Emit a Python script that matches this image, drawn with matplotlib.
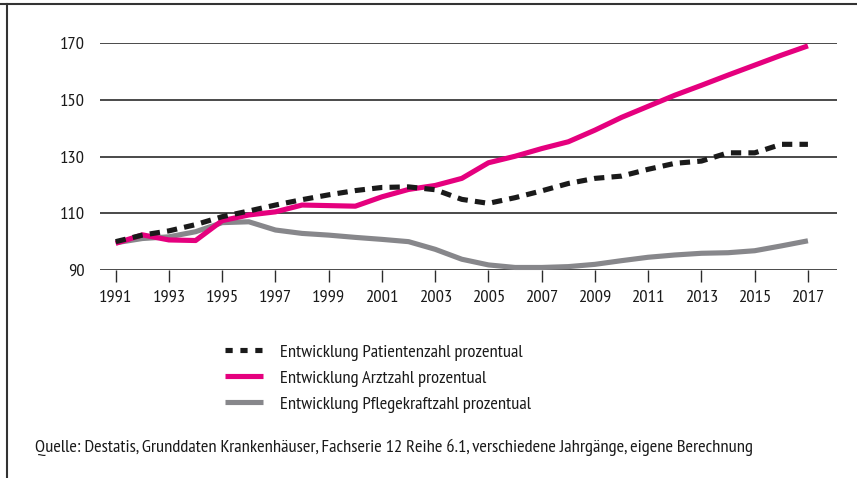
import matplotlib
matplotlib.use("Agg")
import matplotlib.pyplot as plt
from matplotlib.lines import Line2D

plt.rcParams['font.family'] = ['PT Sans Narrow', 'DejaVu Sans']

# Data (index, 1991 = 100)
years = list(range(1991, 2018))
patienten = [100.0, 102.3, 103.8, 106.0, 108.8, 110.8, 112.9, 114.8, 116.5, 118.0,
             119.1, 119.3, 118.3, 114.9, 113.5, 115.5, 117.9, 120.5, 122.3, 123.1,
             125.5, 127.6, 128.4, 131.3, 131.3, 134.3, 134.3]
aerzte = [99.4, 102.4, 100.6, 100.4, 107.4, 109.4, 110.5, 112.9, 112.7, 112.5,
          115.8, 118.4, 119.8, 122.3, 127.8, 130.1, 132.8, 135.2, 139.3, 143.8,
          147.7, 151.6, 155.1, 158.7, 162.2, 165.7, 169.0]
pflege = [99.6, 101.1, 101.7, 103.5, 106.7, 107.0, 104.1, 102.9, 102.3, 101.5,
          100.8, 100.0, 97.3, 93.8, 91.8, 90.9, 90.9, 91.2, 92.0, 93.3,
          94.5, 95.3, 95.9, 96.1, 96.8, 98.5, 100.3]

labels = ["Entwicklung Patientenzahl prozentual",
          "Entwicklung Arztzahl prozentual",
          "Entwicklung Pflegekraftzahl prozentual"]
quelle = ("Quelle: Destatis, Grunddaten Krankenhäuser, Fachserie 12 Reihe 6.1, "
          "verschiedene Jahrgänge, eigene Berechnung")

pink = "#e5007e"
grey = "#87878b"
black = "#1a1a1a"
fs = 13.3

fig = plt.figure(figsize=(8.57, 4.78), dpi=100)
ax = fig.add_axes([0.1167, 0.4351, 0.8596, 0.4749])

# horizontal grid
for v in [90, 110, 130, 150, 170]:
    ax.axhline(v, color="#2b2b2b", lw=1.2, zorder=1)

ax.plot(years, pflege, color=grey, lw=3.7, solid_capstyle="butt", zorder=3, clip_on=False)
ax.plot(years, aerzte, color=pink, lw=3.7, solid_capstyle="butt", zorder=4, clip_on=False)
ax.plot(years, patienten, color=black, lw=3.7, linestyle=(0, (2.0, 1.4)),
        dash_capstyle="butt", zorder=5, clip_on=False)

ax.set_xlim(1990.41, 2018.08)
ax.set_ylim(90, 170)
ax.set_xticks(range(1991, 2018, 2))
ax.set_yticks([90, 110, 130, 150, 170])
for s in ax.spines.values():
    s.set_visible(False)
ax.tick_params(axis="x", direction="out", length=8.6, width=1, color="#2b2b2b",
               labelsize=fs, pad=5.5, labelcolor="#1a1a1a")
ax.tick_params(axis="y", length=0, labelsize=fs, pad=11, labelcolor="#1a1a1a")

# legend
handles = [Line2D([], [], color=black, lw=3.7, linestyle=(0, (1.4, 1.5)), dash_capstyle="butt"),
           Line2D([], [], color=pink, lw=3.7, solid_capstyle="butt"),
           Line2D([], [], color=grey, lw=3.7, solid_capstyle="butt")]
fig.legend(handles, labels, loc="upper left", bbox_to_anchor=(225 / 857, 1 - 344 / 478),
           frameon=False, fontsize=fs, handlelength=2.05, handletextpad=0.95,
           labelspacing=0.48, borderpad=0, borderaxespad=0, labelcolor="#1a1a1a")

fig.text(35 / 857, 1 - 447 / 478, quelle, fontsize=fs, va="center", ha="left", color="#1a1a1a")

# frame (top and left)
fig.add_artist(Line2D([0, 1], [1 - 3.5 / 478, 1 - 3.5 / 478], color="#333333", lw=1.5,
                      transform=fig.transFigure))
fig.add_artist(Line2D([6.5 / 857, 6.5 / 857], [0, 1 - 3.5 / 478], color="#333333", lw=1.5,
                      transform=fig.transFigure))

fig.savefig("out.png", dpi=100, facecolor="white")
